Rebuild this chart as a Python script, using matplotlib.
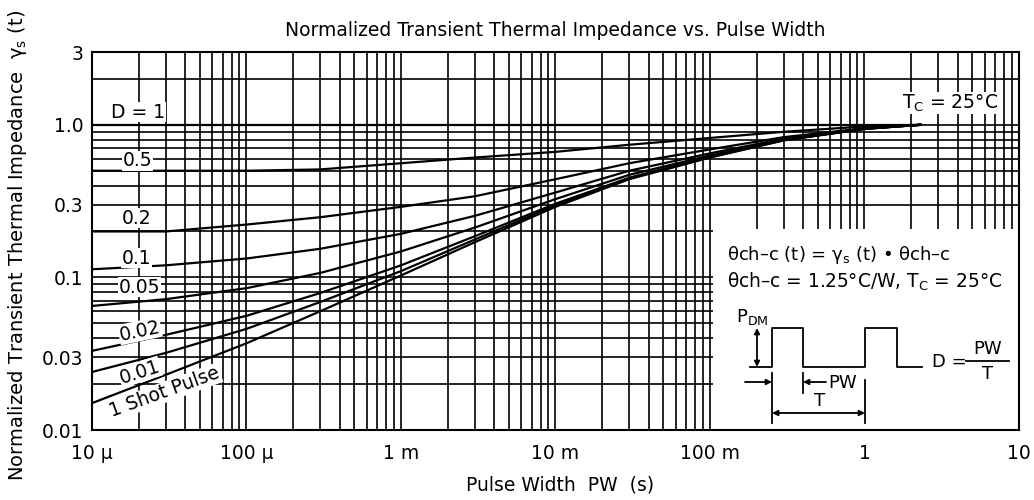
import numpy as np
import matplotlib
matplotlib.use('Agg')
import matplotlib.pyplot as plt
from matplotlib.ticker import LogLocator, NullFormatter, FixedLocator
from matplotlib.patches import Rectangle

plt.rcParams['font.family'] = ['DejaVu Sans']
plt.rcParams['mathtext.fontset'] = 'dejavusans'

# pulse width (s)
t_pts = [1e-5, 3e-5, 1e-4, 3e-4, 1e-3, 3e-3, 1e-2, 3e-2, 1e-1, 3e-1, 1.0, 2.3]
# normalized transient thermal impedance for each duty
z_single = [0.015, 0.023, 0.037, 0.060, 0.103, 0.170, 0.290, 0.440, 0.610, 0.790, 0.940, 1.0]
z_d001 = [0.024, 0.032, 0.046, 0.069, 0.110, 0.177, 0.297, 0.445, 0.615, 0.793, 0.940, 1.0]
z_d002 = [0.033, 0.042, 0.056, 0.079, 0.120, 0.186, 0.304, 0.450, 0.620, 0.795, 0.940, 1.0]
z_d005 = [0.065, 0.072, 0.085, 0.107, 0.148, 0.212, 0.326, 0.470, 0.630, 0.800, 0.945, 1.0]
z_d01 = [0.113, 0.120, 0.133, 0.154, 0.193, 0.253, 0.360, 0.500, 0.650, 0.810, 0.946, 1.0]
z_d02 = [0.200, 0.200, 0.222, 0.248, 0.290, 0.340, 0.440, 0.560, 0.690, 0.830, 0.950, 1.0]
z_d05 = [0.500, 0.500, 0.500, 0.510, 0.560, 0.610, 0.665, 0.740, 0.820, 0.900, 0.975, 1.0]
t_d1 = [1e-5, 2.3]
z_d1 = [1.0, 1.0]

curves = [z_single, z_d001, z_d002, z_d005, z_d01, z_d02, z_d05]

xtick_vals = [1e-5, 1e-4, 1e-3, 1e-2, 1e-1, 1, 10]
xtick_labels = ['10 µ', '100 µ', '1 m', '10 m', '100 m', '1', '10']
ytick_vals = [0.01, 0.03, 0.1, 0.3, 1.0, 3]
ytick_labels = ['0.01', '0.03', '0.1', '0.3', '1.0', '3']

W, H = 1034, 500
fig = plt.figure(figsize=(W / 100, H / 100), dpi=100)
ax = fig.add_axes([92 / W, 1 - 430 / H, 927 / W, 378 / H])
ax.set_xscale('log')
ax.set_yscale('log')
ax.set_xlim(1e-5, 10)
ax.set_ylim(0.01, 3)

fs = 13.5
ax.xaxis.set_major_locator(FixedLocator(xtick_vals))
ax.set_xticklabels(xtick_labels)
ax.xaxis.set_minor_locator(LogLocator(base=10, subs=np.arange(2, 10)))
ax.xaxis.set_minor_formatter(NullFormatter())
ax.yaxis.set_major_locator(FixedLocator(ytick_vals))
ax.set_yticklabels(ytick_labels)
ax.yaxis.set_minor_locator(LogLocator(base=10, subs=np.arange(1, 10)))
ax.yaxis.set_minor_formatter(NullFormatter())
ax.tick_params(which='both', length=0, labelsize=fs)
ax.tick_params(axis='x', pad=10)
ax.tick_params(axis='y', pad=6)
ax.grid(which='both', color='black', lw=1.2)
for s in ax.spines.values():
    s.set_linewidth(1.5)

for z in curves:
    ax.plot(t_pts, z, color='black', lw=1.6, zorder=3)
ax.plot(t_d1, z_d1, color='black', lw=1.6, zorder=3)

# white inset area
ax.add_patch(Rectangle((0.104, 0.0101), 10 - 0.104, 0.207 - 0.0101,
                       facecolor='white', edgecolor='none', zorder=2))

box = dict(facecolor='white', edgecolor='none', pad=0.5)
ax.text(2.0e-5, 1.21, 'D = 1', ha='center', va='center', fontsize=fs, bbox=box, zorder=4)
ax.text(1.96e-5, 0.58, '0.5', ha='center', va='center', fontsize=fs, bbox=box, zorder=4)
ax.text(1.93e-5, 0.245, '0.2', ha='center', va='center', fontsize=fs, bbox=box, zorder=4)
ax.text(1.93e-5, 0.134, '0.1', ha='center', va='center', fontsize=fs, bbox=box, zorder=4)
ax.text(2.04e-5, 0.0865, '0.05', ha='center', va='center', fontsize=fs, bbox=box, zorder=4)
ax.text(2.04e-5, 0.0446, '0.02', ha='center', va='center', fontsize=fs, bbox=box,
        rotation=12, zorder=4)
ax.text(2.04e-5, 0.024, '0.01', ha='center', va='center', fontsize=fs, bbox=box,
        rotation=18, zorder=4)
ax.text(2.96e-5, 0.0177, '1 Shot Pulse', ha='center', va='center', fontsize=fs, bbox=box,
        rotation=20, zorder=4)
ax.text(3.57, 1.39, 'T$_\\mathrm{C}$ = 25°C', ha='center', va='center', fontsize=fs,
        bbox=box, zorder=4)

fig.text(555 / W, 1 - 30 / H, 'Normalized Transient Thermal Impedance vs. Pulse Width',
         ha='center', va='center', fontsize=fs)
ax.set_xlabel('Pulse Width  PW  (s)', fontsize=fs, va='center')
ax.xaxis.set_label_coords((560 - 92) / 927, (430 - 485) / 378)
ax.set_ylabel('Normalized Transient Thermal Impedance  γ$_\\mathrm{s}$ (t)', fontsize=14,
              va='center', ha='center')
ax.yaxis.set_label_coords((18 - 92) / 927, (430 - 246) / 378)

# overlay in pixel coordinates for the inset schematic
ov = fig.add_axes([0, 0, 1, 1])
ov.set_xlim(0, W)
ov.set_ylim(H, 0)
ov.axis('off')
ov.patch.set_visible(False)

fi = 13
ov.text(727, 255, 'θch–c (t) = γ$_\\mathrm{s}$ (t) • θch–c', ha='left', va='center', fontsize=fi)
ov.text(727, 282, 'θch–c = 1.25°C/W, T$_\\mathrm{C}$ = 25°C', ha='left', va='center',
        fontsize=13.4)

lw = 1.3
ov.plot([750, 772, 772, 803, 803, 865, 865, 897, 897, 922],
        [367, 367, 328, 328, 367, 367, 328, 328, 367, 367], color='black', lw=lw)
ov.text(736, 317, 'P$_\\mathrm{DM}$', ha='left', va='center', fontsize=fi)
ov.annotate('', xy=(757, 328), xytext=(757, 367),
            arrowprops=dict(arrowstyle='<|-|>', color='black', lw=lw, mutation_scale=8,
                            shrinkA=0, shrinkB=0))
# PW dimension
ov.plot([772, 772], [373, 423], color='black', lw=lw)
ov.plot([803, 803], [373, 393], color='black', lw=lw)
ov.plot([865, 865], [380, 423], color='black', lw=lw)
ov.annotate('', xy=(772, 382), xytext=(745, 382),
            arrowprops=dict(arrowstyle='-|>', color='black', lw=lw, mutation_scale=8,
                            shrinkA=0, shrinkB=0))
ov.annotate('', xy=(803, 382), xytext=(826, 382),
            arrowprops=dict(arrowstyle='-|>', color='black', lw=lw, mutation_scale=8,
                            shrinkA=0, shrinkB=0))
ov.text(828, 383, 'PW', ha='left', va='center', fontsize=fi)
# T dimension
ov.annotate('', xy=(772, 413), xytext=(865, 413),
            arrowprops=dict(arrowstyle='<|-|>', color='black', lw=lw, mutation_scale=8,
                            shrinkA=0, shrinkB=0))
ov.text(820, 401, 'T', ha='center', va='center', fontsize=fi)
# duty formula
ov.text(932, 362, 'D =', ha='left', va='center', fontsize=fi)
ov.text(988, 349, 'PW', ha='center', va='center', fontsize=fi)
ov.plot([966, 1009], [361, 361], color='black', lw=lw)
ov.text(988, 374, 'T', ha='center', va='center', fontsize=fi)

fig.savefig('out.png', dpi=100)
